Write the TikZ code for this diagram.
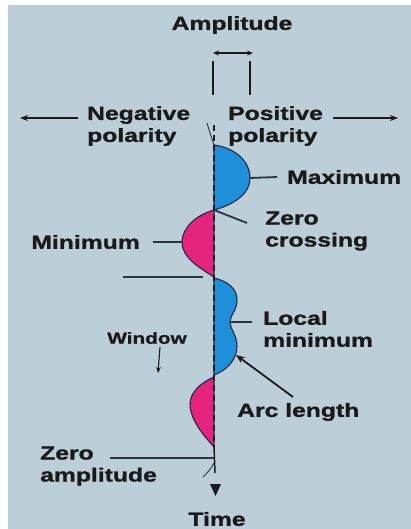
\documentclass[tikz,border=0pt]{standalone}
\usepackage{fontspec}
\newfontfamily\lab{Liberation Sans}[FakeStretch=1.3, FakeBold=1.2]
\usetikzlibrary{arrows.meta}
\definecolor{bg}{HTML}{BCCFD9}
\definecolor{lobeblue}{HTML}{1E8FD8}
\definecolor{lobepink}{HTML}{E6247E}
\definecolor{edge}{HTML}{1C2A4A}
\definecolor{ink}{HTML}{1A1A1A}
\definecolor{lead}{HTML}{2E343C}
\tikzset{
  lbl/.style={font=\lab\bfseries\fontsize{19}{22}\selectfont, text=ink, inner sep=0pt, align=left},
  small/.style={font=\lab\bfseries\fontsize{16}{18}\selectfont, text=ink, inner sep=0pt},
  leader/.style={draw=lead, line width=1.8pt},
  bluelobe/.style={fill=lobeblue, draw=edge, line width=1.1pt},
  pinklobe/.style={fill=lobepink, draw=edge, line width=1.1pt},
  wave/.style={draw=lead, line width=0.9pt},
  bigarrow/.style={draw=ink, line width=1.8pt, -{Stealth[length=9pt,width=7pt]}},
}
\begin{document}
\begin{tikzpicture}[x=1pt,y=-1pt]
\useasboundingbox (0,0) rectangle (411,529);
\fill[white] (0,0) rectangle (411,529);
\fill[bg] (8,5) rectangle (411,529);

% lobes
\path[bluelobe] (214,145) .. controls (236,148) and (250,162) .. (250,178)
   .. controls (250,195) and (232,205) .. (214,210) -- cycle;
\path[pinklobe] (214,210) .. controls (196,215) and (182,228) .. (182,242)
   .. controls (182,258) and (200,268) .. (214,277) -- cycle;
\path[bluelobe] (214,278) .. controls (230,282) and (237,290) .. (237,300)
   .. controls (237,311) and (230,315) .. (230,322)
   .. controls (230,329) and (237,335) .. (237,346)
   .. controls (237,361) and (225,371) .. (214,375) -- cycle;
\path[pinklobe] (214,377) .. controls (200,383) and (190,393) .. (190,404)
   .. controls (190,420) and (205,437) .. (214,447) -- cycle;
\draw[wave] (207,123) .. controls (210,133) .. (214,145);
\draw[wave] (214,463) .. controls (209,471) .. (203,477);

% curve points
\coordinate (pmax) at (250,178);
\coordinate (pzero) at (214,210);
\coordinate (pmin) at (182,242);
\coordinate (plocal) at (230,322);
\coordinate (parc) at (236,355);
\coordinate (pzamp) at (214,458);

% time axis
\draw[ink, line width=1.7pt, dash pattern=on 6pt off 4pt] (214,125) -- (214,447);
\draw[ink, line width=1.5pt] (214,447) -- (215,473);
\fill[ink] (210,484) -- (221,484) -- (215.5,496) -- cycle;

% amplitude marker
\node[lbl] (amp) at (232,25) {Amplitude};
\coordinate (al) at (213,53);
\coordinate (ar) at (253,53);
\draw[ink, line width=1.4pt, {Stealth[length=6pt,width=5pt]}-{Stealth[length=6pt,width=5pt]}] (al) -- (ar);
\draw[ink, line width=2.2pt] (213,61) -- (213,95);
\draw[ink, line width=2.2pt] (250,61) -- (250,95);

% polarity
\node[lbl, anchor=west] (neg) at (87,126) {Negative\\polarity};
\node[lbl, anchor=west] (pos) at (228,126) {Positive\\polarity};
\coordinate (lend) at (20,118);
\coordinate (rend) at (398,118);
\draw[ink, line width=1.6pt, -{Stealth[length=8pt,width=6pt]}] (78,118) -- (lend);
\draw[ink, line width=1.6pt, -{Stealth[length=8pt,width=6pt]}] (333,118) -- (rend);

% labels
\node[lbl, anchor=west] (max) at (287,177) {Maximum};
\draw[leader] (max.west) ++(-10,0) -- (pmax);
\node[lbl, anchor=west] (zc) at (265,231) {Zero\\crossing};
\draw[leader] (pzero) -- (247,223);
\node[lbl, anchor=east] (min) at (140,242) {Minimum};
\draw[leader] (153,242) -- (pmin);
\draw[leader] (123,277) -- (203,277);
\node[lbl, anchor=west] (loc) at (263,329) {Local\\minimum};
\draw[leader] (plocal) -- (252,322);
\node[small] (win) at (147,338) {Window};
\draw[ink, line width=1.1pt, -{Stealth[length=6pt,width=5pt]}] (160,347) -- (158,373);
\node[lbl, anchor=west] (arc) at (237,412) {Arc length};
\draw[bigarrow] (293,397) -- (parc);
\node[lbl, anchor=west] (za) at (40,466) {Zero\\amplitude};
\draw[leader] (110,458) -- (pzamp);
\node[lbl] (time) at (217,519) {Time};
\end{tikzpicture}
\end{document}
